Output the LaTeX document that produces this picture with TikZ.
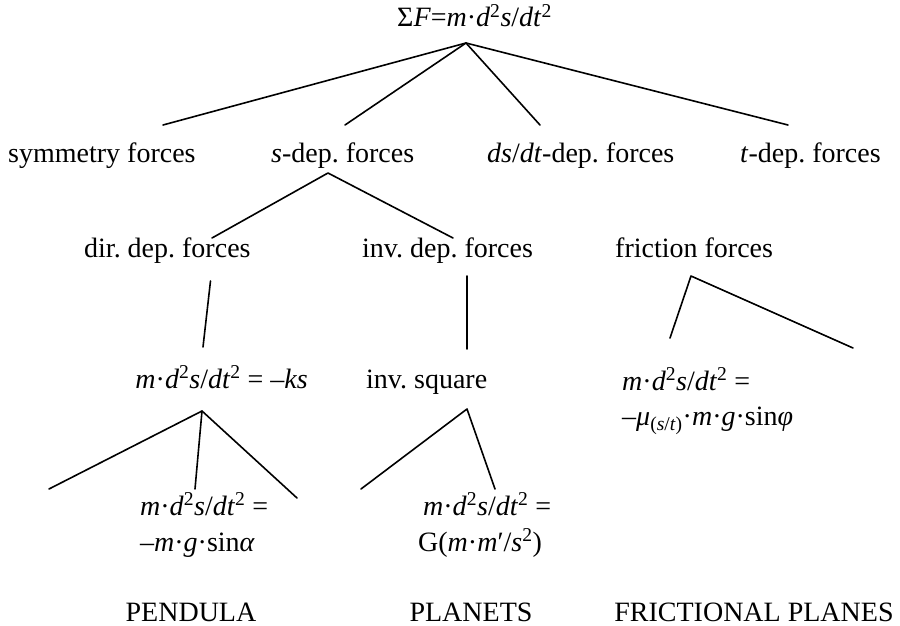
\documentclass[tikz,border=0pt]{standalone}
\usepackage{fontspec}
\setmainfont{Liberation Serif}
\frenchspacing
\newcommand{\iv}[1]{\textit{#1}}
\newcommand{\sqr}{\textsuperscript{2}}
\newcommand{\cdt}{\textperiodcentered}
\newcommand{\accel}{\iv{m}\cdt\iv{d}\sqr\iv{s}/\iv{dt}\sqr}
\begin{document}
\begin{tikzpicture}[x=1pt,y=-1pt,
  txt/.style={inner sep=0pt, anchor=base west, font=\fontsize{28}{34}\selectfont},
  txtc/.style={txt, anchor=base},
  edge/.style={line width=1.6pt, line cap=round, line join=round}]
\useasboundingbox (0,0) rectangle (900,626);
% texts
\node[txt] (top) at (397,27) {Σ\iv{F}=\accel};
\node[txt] (sym) at (8,162) {symmetry forces};
\node[txt] (sdep) at (271,162) {\iv{s}-dep. forces};
\node[txt] (vdep) at (487,162) {\iv{ds}/\iv{dt}-dep. forces};
\node[txt] (tdep) at (740,162) {\iv{t}-dep. forces};
\node[txt] (dir) at (84,257) {dir. dep. forces};
\node[txt] (inv) at (362,257) {inv. dep. forces};
\node[txt] (fric) at (615,257) {friction forces};
\node[txt, anchor=base east] (ks) at (308,388) {\accel{} = –\iv{ks}};
\node[txt] (invsq) at (366,388) {inv. square};
\node[txt] (fr1) at (622,390) {\accel{} =};
\node[txt] (fr2) at (622,425) {–\iv{μ}\textsubscript{(\iv{s}/\iv{t})}\cdt\iv{m}\cdt\iv{g}\cdt sin\iv{φ}};
\node[txt] (pe1) at (140,515) {\accel{} =};
\node[txt] (pe2) at (140,551) {–\iv{m}\cdt\iv{g}\cdt sin\iv{α}};
\node[txt] (pl1) at (423,515) {\accel{} =};
\node[txt] (pl2) at (418,551) {G(\iv{m}\cdt\iv{m}′/\iv{s}\sqr)};
\node[txtc] (pend) at (191,621) {PENDULA};
\node[txtc] (plan) at (471,621) {PLANETS};
\node[txtc] (frpl) at (754,621) {FRICTIONAL PLANES};
% junction points
\coordinate (a0) at (466,43);
\coordinate (a0s) at (163,125);
\coordinate (a0d) at (345,125);
\coordinate (a0v) at (540,125);
\coordinate (a0t) at (788,125);
\coordinate (a1) at (328,173);
\coordinate (a1l) at (212,238);
\coordinate (a1r) at (453,238);
\coordinate (d1) at (210.5,281);
\coordinate (d2) at (203,347);
\coordinate (i1) at (467,276);
\coordinate (i2) at (467,349);
\coordinate (f0) at (691,276);
\coordinate (fl) at (670,338);
\coordinate (fr) at (853,348);
\coordinate (p0) at (202,411);
\coordinate (pl) at (49,489);
\coordinate (pm) at (195,489);
\coordinate (pr) at (297,498);
\coordinate (q0) at (467,409);
\coordinate (ql) at (361,489);
\coordinate (qr) at (495,489);
% connectors
\draw[edge] (a0s) -- (a0) -- (a0t);
\draw[edge] (a0) -- (a0d);
\draw[edge] (a0) -- (a0v);
\draw[edge] (a1l) -- (a1) -- (a1r);
\draw[edge] (d1) -- (d2);
\draw[edge] (i1) -- (i2);
\draw[edge] (fl) -- (f0) -- (fr);
\draw[edge] (pl) -- (p0) -- (pr);
\draw[edge] (p0) -- (pm);
\draw[edge] (ql) -- (q0) -- (qr);
\end{tikzpicture}
\end{document}
